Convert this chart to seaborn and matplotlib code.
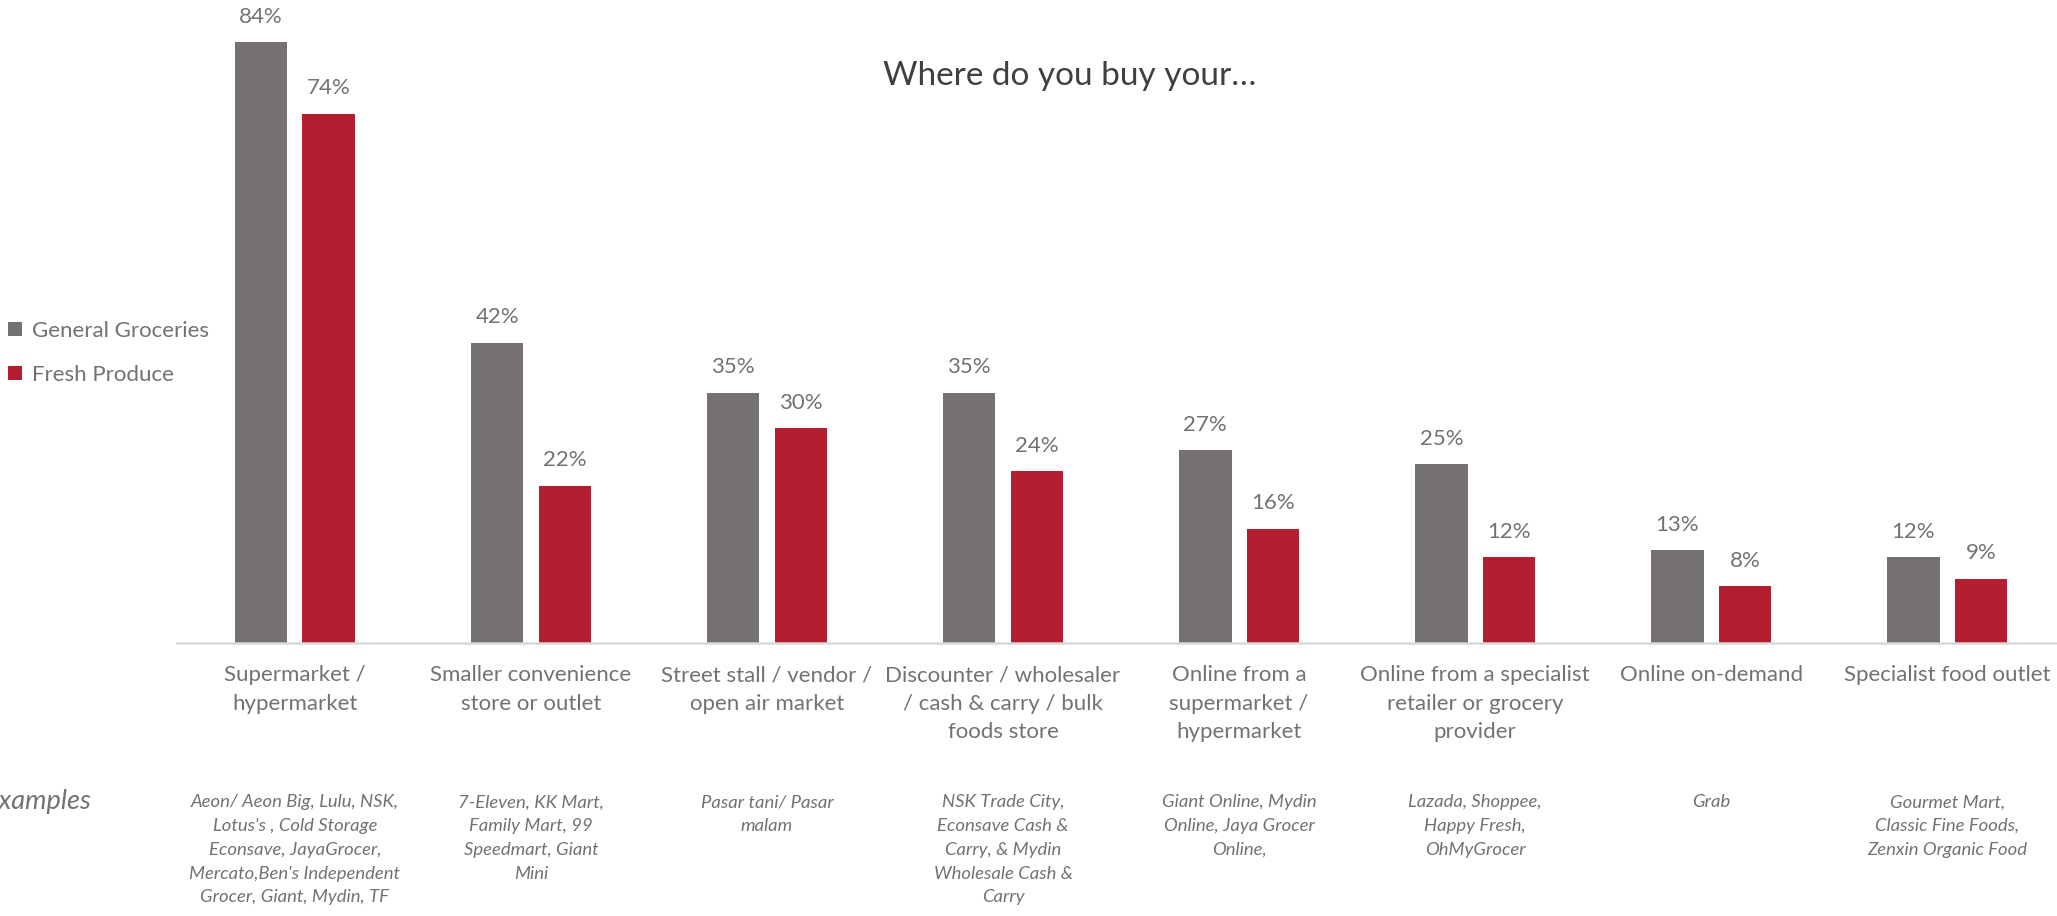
import matplotlib
matplotlib.use("Agg")
import matplotlib.pyplot as plt
import matplotlib.transforms as mtransforms
import pandas as pd
import seaborn as sns

# ---- data -------------------------------------------------------------
categories = [
    "Supermarket /\nhypermarket",
    "Smaller convenience\nstore or outlet",
    "Street stall / vendor /\nopen air market",
    "Discounter / wholesaler\n/ cash & carry / bulk\nfoods store",
    "Online from a\nsupermarket /\nhypermarket",
    "Online from a specialist\nretailer or grocery\nprovider",
    "Online on-demand",
    "Specialist food outlet",
]
general_groceries = [84, 42, 35, 35, 27, 25, 13, 12]
fresh_produce = [74, 22, 30, 24, 16, 12, 8, 9]
series_names = ["General Groceries", "Fresh Produce"]
examples = [
    "Aeon/ Aeon Big, Lulu, NSK,\nLotus's , Cold Storage\nEconsave, JayaGrocer,\nMercato,Ben's Independent\nGrocer, Giant, Mydin, TF",
    "7-Eleven, KK Mart,\nFamily Mart, 99\nSpeedmart, Giant\nMini",
    "Pasar tani/ Pasar\nmalam",
    "NSK Trade City,\nEconsave Cash &\nCarry, & Mydin\nWholesale Cash &\nCarry",
    "Giant Online, Mydin\nOnline, Jaya Grocer\nOnline,",
    "Lazada, Shoppee,\nHappy Fresh,\nOhMyGrocer",
    "Grab",
    "Gourmet Mart,\nClassic Fine Foods,\nZenxin Organic Food",
]
title = "Where do you buy your\u2026"

# ---- style ------------------------------------------------------------
sns.set_theme(style="white")
plt.rcParams["font.family"] = ["Lato", "DejaVu Sans"]

GRAY = "#767171"
RED = "#B31E30"
TEXT = "#767171"

df = pd.DataFrame({
    "category": categories * 2,
    "value": general_groceries + fresh_produce,
    "series": [series_names[0]] * len(categories) + [series_names[1]] * len(categories),
})

fig = plt.figure(figsize=(20.57, 9.16), dpi=100)
ax = fig.add_axes([0.086, 0.298, 0.918, 0.702])

sns.barplot(
    data=df, x="category", y="value", hue="series",
    hue_order=series_names, order=categories,
    palette=[GRAY, RED], width=0.573, gap=0.224,
    saturation=1, edgecolor="none", ax=ax, legend=True,
)

ax.set_ylim(0, 89.9)
ax.set_yticks([])
ax.set_xlabel("")
ax.set_ylabel("")
sns.despine(ax=ax, left=True, top=True, right=True)
ax.spines["bottom"].set_color("#D9D9D9")
ax.spines["bottom"].set_linewidth(1.8)
ax.tick_params(axis="x", length=0, pad=16, labelsize=16, labelcolor=TEXT)
for lbl in ax.get_xticklabels():
    lbl.set_linespacing(1.53)

# value labels above bars
for cont in ax.containers:
    ax.bar_label(cont, fmt="{:.0f}%", padding=11, fontsize=16, color=TEXT)

# example retailers below each category
trans = mtransforms.blended_transform_factory(ax.transData, fig.transFigure)
for i, txt in enumerate(examples):
    ax.text(i, 0.133, txt, transform=trans, ha="center", va="top",
            fontsize=13.3, style="italic", color=TEXT, linespacing=1.6)
fig.text(0.0447, 0.1245, "Examples", ha="right", va="center",
         fontsize=19.5, style="italic", color=TEXT)

# title
fig.text(0.52, 0.917, title, ha="center", va="center", fontsize=24, color="#404040")

# legend on the left
handles, labels = ax.get_legend_handles_labels()
ax.legend(
    handles, labels, loc="center left", bbox_to_anchor=(0.004, 0.6146),
    bbox_transform=fig.transFigure, frameon=False, fontsize=16,
    labelcolor=TEXT, handlelength=0.6, handleheight=0.6,
    handletextpad=0.45, labelspacing=1.1, borderpad=0, borderaxespad=0,
)

fig.savefig("out.png", dpi=100)
